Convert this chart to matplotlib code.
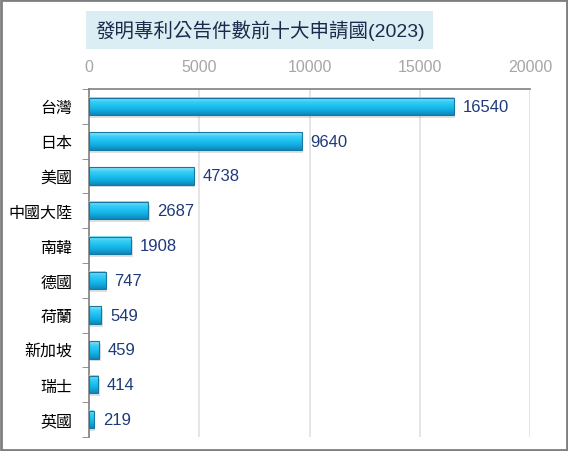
import matplotlib.pyplot as plt
import numpy as np
from matplotlib.colors import LinearSegmentedColormap
from matplotlib.patches import Rectangle

plt.rcParams['font.family'] = ['Liberation Sans', 'Noto Sans CJK TC', 'DejaVu Sans']

# Data
countries = ["台灣", "日本", "美國", "中國大陸", "南韓", "德國", "荷蘭", "新加坡", "瑞士", "英國"]
counts = [16540, 9640, 4738, 2687, 1908, 747, 549, 459, 414, 219]
xticks = [0, 5000, 10000, 15000, 20000]

fig = plt.figure(figsize=(5.68, 4.52), dpi=100)
ax = fig.add_axes([0.157, 0.031, 0.776, 0.770])

# gradient for the "3D" bars, light top -> darker bottom
cmap = LinearSegmentedColormap.from_list(
    "bar", ["#0E86B8", "#12A9DE", "#1CC0F0", "#3ACDF4", "#8FE4FA"])
grad = np.linspace(0, 1, 64).reshape(-1, 1)

ypos = np.arange(len(countries))
h = 0.5
for y, v in zip(ypos, counts):
    # soft shadow
    ax.add_patch(Rectangle((60, y - h / 2 + 0.08), v, h, facecolor="#9a9a9a",
                           alpha=0.3, edgecolor="none", zorder=2))
    ax.imshow(grad, cmap=cmap, aspect="auto", origin="lower",
              extent=(0, v, y + h / 2, y - h / 2), zorder=3)
    ax.add_patch(Rectangle((0, y - h / 2), v, h, facecolor="none",
                           edgecolor="#1678A2", linewidth=0.8, zorder=4))
    ax.text(v + 400, y, str(v), va="center", ha="left", fontsize=12,
            color="#1F3A7A", zorder=5)

ax.set_xlim(0, 20000)
ax.set_ylim(len(countries) - 0.5, -0.5)
ax.set_xticks(xticks)
ax.xaxis.tick_top()
ax.tick_params(axis="x", length=0, pad=11, labelsize=11.5, labelcolor="#A6A6A6")

ax.set_yticks(ypos)
ax.set_yticklabels(countries, fontsize=11.5)
ax.set_yticks(np.arange(len(countries) + 1) - 0.5, minor=True)
ax.tick_params(axis="y", which="major", length=0, pad=12)
ax.tick_params(axis="y", which="minor", length=5, color="#808080")

ax.grid(axis="x", color="#E0E0E0", linewidth=1.2, zorder=0)
ax.set_axisbelow(True)
for side in ["right", "bottom"]:
    ax.spines[side].set_visible(False)
for side in ["left", "top"]:
    ax.spines[side].set_color("#808080")
    ax.spines[side].set_linewidth(1.2)

# title in a light blue box
fig.text(0.4575, 0.932, "發明專利公告件數前十大申請國(2023)", ha="center", va="center",
         fontsize=14, color="#1B2A4A",
         bbox=dict(boxstyle="square,pad=0.45", facecolor="#DAEEF3", edgecolor="none"))

# outer frame
fig.add_artist(Rectangle((0.001, 0.002), 0.997, 0.996, transform=fig.transFigure,
                         facecolor="none", edgecolor="#7F7F7F", linewidth=2))

fig.savefig("out.png", dpi=100)
